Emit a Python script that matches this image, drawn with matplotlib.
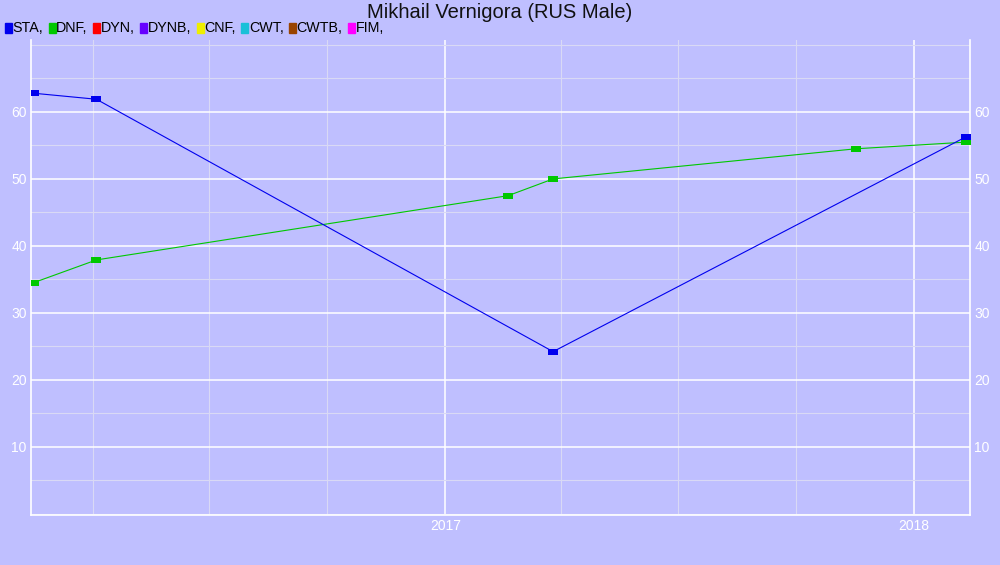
import pandas as pd
import matplotlib
matplotlib.use('Agg')
import matplotlib.pyplot as plt
import matplotlib.dates as mdates
from matplotlib.patches import Rectangle
from matplotlib.ticker import MultipleLocator

# values
sta_dates = ['2016-02-15', '2016-04-04', '2017-03-26', '2018-02-11']
sta_vals = [62.8, 61.9, 24.2, 56.3]
dnf_dates = ['2016-02-15', '2016-04-04', '2017-02-19', '2017-03-26', '2017-11-17', '2018-02-11']
dnf_vals = [34.5, 37.9, 47.5, 50.0, 54.5, 55.5]

legend_names = ['STA', 'DNF', 'DYN', 'DYNB', 'CNF', 'CWT', 'CWTB', 'FIM']
legend_colors = ['#0000ee', '#00c800', '#ff0000', '#6600ff', '#eeee00', '#1ac0d8', '#994400', '#ff00ff']

title = 'Mikhail Vernigora (RUS Male)'
bg = '#bfbfff'
faint = '#d9d9f5'

plt.rcParams['font.family'] = ['Liberation Sans', 'DejaVu Sans']

fig = plt.figure(figsize=(10, 5.65), dpi=100, facecolor=bg)
ax = fig.add_axes([0.031, (565 - 515) / 565, 0.939, (515 - 40) / 565])
ax.set_facecolor(bg)

# rectangular markers, wider than tall
rect = [(-1, -0.62), (1, -0.62), (1, 0.62), (-1, 0.62), (-1, -0.62)]

ax.plot(pd.to_datetime(sta_dates), sta_vals, color=legend_colors[0], lw=0.8,
        marker=rect, ms=7.5, mew=0, zorder=4)
ax.plot(pd.to_datetime(dnf_dates), dnf_vals, color=legend_colors[1], lw=0.8,
        marker=rect, ms=7.5, mew=0, zorder=3)

ax.set_xlim(pd.Timestamp('2016-02-13'), pd.Timestamp('2018-02-14'))
ax.set_ylim(-0.2, 70.75)

ax.xaxis.set_major_locator(mdates.YearLocator())
ax.xaxis.set_major_formatter(mdates.DateFormatter('%Y'))
ax.xaxis.set_minor_locator(mdates.MonthLocator(bymonth=[1, 4, 7, 10]))
ax.yaxis.set_major_locator(MultipleLocator(10))
ax.yaxis.set_minor_locator(MultipleLocator(5))

ax.grid(which='minor', color=faint, lw=0.8, zorder=0)
ax.grid(which='major', color='white', lw=1.1, zorder=1)
ax.set_axisbelow(True)

ax.spines['top'].set_visible(False)
for s in ['left', 'right', 'bottom']:
    ax.spines[s].set_color('white')
    ax.spines[s].set_linewidth(1.2)

ax.tick_params(which='both', length=0, colors='white', labelsize=10,
               labelright=True, pad=3)
ax.set_yticks([10, 20, 30, 40, 50, 60])

fig.text(0.5, 1 - 13 / 565, title, ha='center', va='center', fontsize=14.5, color='#111111')

# legend row at the top left
fig.canvas.draw()
r = fig.canvas.get_renderer()
x = 5
y = 28
for name, c in zip(legend_names, legend_colors):
    fig.patches.append(Rectangle((x / 1000, 1 - (y + 5) / 565), 7 / 1000, 10 / 565,
                                 transform=fig.transFigure, color=c, figure=fig))
    t = fig.text((x + 7.5) / 1000, 1 - y / 565, name + ',', ha='left', va='center',
                 fontsize=10.3, color='black')
    w = t.get_window_extent(r).width
    x = x + 7.5 + w + 5.5

fig.savefig('out.png', dpi=100, facecolor=bg)
